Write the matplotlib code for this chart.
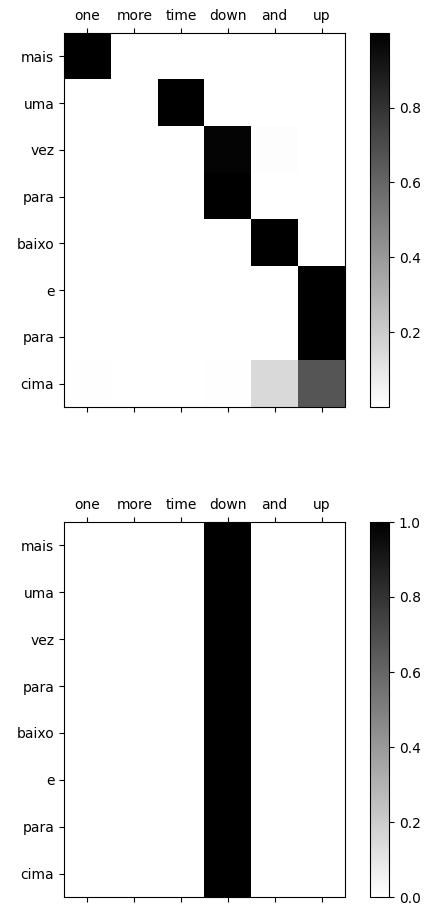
import numpy as np
import matplotlib
matplotlib.use("Agg")
import matplotlib.pyplot as plt

# words
input_words = ["one", "more", "time", "down", "and", "up"]
output_words = ["mais", "uma", "vez", "para", "baixo", "e", "para", "cima"]

# attention weights, rows = output words, cols = input words
attn_top = np.array([
    [0.999, 0.0005, 0.0005, 0.0005, 0.0005, 0.0005],
    [0.0005, 0.0005, 0.999, 0.0005, 0.0005, 0.0005],
    [0.0005, 0.0005, 0.0005, 0.98, 0.01, 0.0005],
    [0.0005, 0.0005, 0.0005, 0.999, 0.0005, 0.0005],
    [0.0005, 0.0005, 0.0005, 0.004, 0.995, 0.0005],
    [0.0005, 0.0005, 0.0005, 0.0005, 0.0005, 0.999],
    [0.0005, 0.0005, 0.0005, 0.0005, 0.0005, 0.999],
    [0.006, 0.002, 0.002, 0.005, 0.15, 0.665],
])

attn_bottom = np.array([
    [0.0, 0.0, 0.0, 1.0, 0.0, 0.0],
    [0.0, 0.0, 0.0, 1.0, 0.0, 0.0],
    [0.0, 0.0, 0.0, 1.0, 0.0, 0.0],
    [0.0, 0.0, 0.0, 1.0, 0.0, 0.0],
    [0.0, 0.0, 0.0, 1.0, 0.0, 0.0],
    [0.0, 0.0, 0.0, 1.0, 0.0, 0.0],
    [0.0, 0.0, 0.0, 1.0, 0.0, 0.0],
    [0.0, 0.0, 0.0, 1.0, 0.0, 0.0],
])

W, H = 426, 905
fig = plt.figure(figsize=(W / 100, H / 100), dpi=100)

def px_box(x0, y0, x1, y1):
    return [x0 / W, (H - y1) / H, (x1 - x0) / W, (y1 - y0) / H]

for data, (top, bot) in zip([attn_top, attn_bottom], [(33, 407), (522, 897)]):
    ax = fig.add_axes(px_box(64, top, 345, bot))
    cax = fig.add_axes(px_box(370, top, 389, bot))
    im = ax.matshow(data, cmap="gray_r", aspect="auto")
    fig.colorbar(im, cax=cax)
    ax.set_xticks(range(len(input_words)))
    ax.set_xticklabels(input_words)
    ax.set_yticks(range(len(output_words)))
    ax.set_yticklabels(output_words)

fig.savefig("out.png", dpi=100)
